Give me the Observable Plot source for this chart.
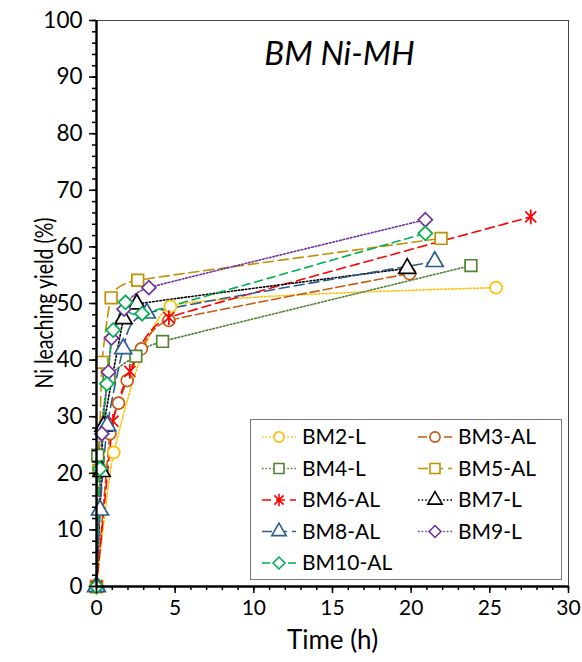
<!DOCTYPE html>
<html>
<head>
<meta charset="utf-8">
<script src="https://cdn.jsdelivr.net/npm/d3@7"></script>
<script src="https://cdn.jsdelivr.net/npm/@observablehq/plot@0.6"></script>
<style>
  html, body { margin: 0; padding: 0; background: #fff; }
  #wrap { position: relative; width: 582px; height: 662px; }
  #wrap svg { position: absolute; left: 0; top: 0; }
</style>
</head>
<body>
<div id="wrap"></div>
<script>
// ---- data ----
const seriesNames = ["BM2-L", "BM3-AL", "BM4-L", "BM5-AL", "BM6-AL", "BM7-L", "BM8-AL", "BM9-L", "BM10-AL"];
const bm2T = [0, 1.1, 4.7, 25.4];
const bm2Y = [0, 23.7, 49.5, 52.8];
const bm3T = [0, 0.85, 1.4, 1.95, 2.85, 4.6, 19.9];
const bm3Y = [0, 27.0, 32.4, 36.4, 42.0, 47.0, 55.3];
const bm4T = [0, 0.08, 0.8, 2.5, 4.2, 23.8];
const bm4Y = [0, 23.2, 37.0, 40.7, 43.3, 56.7];
const bm5T = [0, 0.15, 0.35, 0.93, 2.62, 21.9];
const bm5Y = [0, 20.5, 39.6, 51.0, 54.1, 61.5];
const bm6T = [0, 1.05, 2.12, 4.6, 27.6];
const bm6Y = [0, 29.2, 38.0, 47.5, 65.3];
const bm7T = [0, 0.33, 0.45, 1.72, 2.56, 19.75];
const bm7Y = [0, 20.3, 28.3, 47.3, 49.9, 56.2];
const bm8T = [0, 0.22, 0.68, 1.7, 3.2, 21.5];
const bm8Y = [0, 13.5, 28.4, 42.0, 48.3, 57.4];
const bm9T = [0, 0.34, 0.76, 0.95, 1.75, 3.33, 20.9];
const bm9Y = [0, 27.0, 37.9, 43.9, 49.0, 52.8, 64.8];
const bm10T = [0, 0.22, 0.66, 1.06, 1.84, 2.9, 20.9];
const bm10Y = [0, 20.8, 35.8, 45.3, 50.2, 48.2, 62.4];
const xTicks = [0, 5, 10, 15, 20, 25, 30];
const yTicks = [0, 10, 20, 30, 40, 50, 60, 70, 80, 90, 100];
const titleText = "BM Ni-MH";
const xLabel = "Time (h)";
const yLabel = "Ni leaching yield (%)";

// ---- styles ----
const starSymbol = {
  draw(ctx, size) {
    const r = Math.sqrt(size / Math.PI) * 1.05;
    const d = r * 0.75;
    ctx.moveTo(0, -r); ctx.lineTo(0, r);
    ctx.moveTo(-d, -d); ctx.lineTo(d, d);
    ctx.moveTo(-d, d); ctx.lineTo(d, -d);
  }
};
const styles = {
  "BM2-L":   {color: "#FFC000", symbol: "circle",   dash: "1.6,2",  r: 6},
  "BM3-AL":  {color: "#C55A11", symbol: "circle",   dash: "9,4",    r: 6},
  "BM4-L":   {color: "#548235", symbol: "square",   dash: "1.6,2",  r: 6.6},
  "BM5-AL":  {color: "#BF9000", symbol: "square",   dash: "10,5",   r: 6.6},
  "BM6-AL":  {color: "#FF0000", symbol: starSymbol, dash: "9,5",    r: 7},
  "BM7-L":   {color: "#000000", symbol: "triangle", dash: "1.6,2",  r: 6.3},
  "BM8-AL":  {color: "#2F5C8F", symbol: "triangle", dash: "10,5",   r: 6.3},
  "BM9-L":   {color: "#7030A0", symbol: "diamond2", dash: "1.6,2",  r: 6.3},
  "BM10-AL": {color: "#00B050", symbol: "diamond2", dash: "8,5",    r: 6.3}
};
const allT = [bm2T, bm3T, bm4T, bm5T, bm6T, bm7T, bm8T, bm9T, bm10T];
const allY = [bm2Y, bm3Y, bm4Y, bm5Y, bm6Y, bm7Y, bm8Y, bm9Y, bm10Y];
const rows = seriesNames.map((name, i) => allT[i].map((t, j) => ({series: name, t, y: allY[i][j]})));

const font = "Lato, 'Open Sans', sans-serif";
const smooth = d3.curveCardinal.tension(0.6);
const marks = [];
marks.push(Plot.frame({stroke: "#444", strokeWidth: 1}));
rows.forEach((data, i) => {
  const s = styles[seriesNames[i]];
  marks.push(Plot.line(data, {x: "t", y: "y", stroke: s.color, strokeWidth: 1.6,
    strokeDasharray: s.dash, curve: smooth}));
});
rows.forEach((data, i) => {
  const s = styles[seriesNames[i]];
  marks.push(Plot.dot(data, {x: "t", y: "y", symbol: () => s.symbol, r: s.r,
    stroke: s.color, fill: s.color === "#FF0000" ? "none" : "white", strokeWidth: 1.7}));
});
marks.push(
  Plot.axisX({ticks: d3.range(0, 31, 1), tickSize: 4, text: null, strokeWidth: 1.5, label: null}),
  Plot.axisX({ticks: xTicks, tickSize: 7, tickPadding: 7, fontSize: 21, strokeWidth: 1.5, label: null}),
  Plot.axisY({ticks: d3.range(0, 101, 2), tickSize: 4, text: null, strokeWidth: 1.5, label: null}),
  Plot.axisY({ticks: yTicks, tickSize: 7, tickPadding: 7, fontSize: 22.5, strokeWidth: 1.5, label: null}),
  Plot.ruleX([0], {strokeWidth: 2.4}),
  Plot.ruleY([0], {strokeWidth: 2.4}),
  Plot.text([titleText], {frameAnchor: "top", dy: 21, dx: 7, fontSize: 33, fontStyle: "italic"}),
  Plot.text([xLabel], {frameAnchor: "bottom", dy: 62, fontSize: 26})
);

const chart = Plot.plot({
  width: 582, height: 662,
  marginLeft: 96, marginRight: 14, marginTop: 20, marginBottom: 76,
  x: {domain: [0, 30]},
  y: {domain: [0, 100]},
  style: {fontFamily: font, color: "#000", background: "white", overflow: "visible"},
  marks
});
document.getElementById("wrap").appendChild(chart);

// ---- overlay: y-axis title (widened) and legend ----
const leg = d3.select("#wrap").append("svg")
  .attr("width", 582).attr("height", 662)
  .style("pointer-events", "none");
leg.append("text")
  .attr("transform", "translate(44,303) scale(1.3,1) rotate(-90)")
  .attr("text-anchor", "middle").attr("dy", "0.35em")
  .attr("font-family", font).attr("font-size", 19.5).attr("fill", "#000")
  .text(yLabel);
leg.append("rect").attr("x", 250.5).attr("y", 419.5).attr("width", 311).attr("height", 160)
  .attr("fill", "white").attr("stroke", "#777").attr("stroke-width", 1);
function symPath(sym, r) {
  const map = {circle: d3.symbolCircle, square: d3.symbolSquare, triangle: d3.symbolTriangle, diamond2: d3.symbolDiamond2};
  const type = typeof sym === "string" ? map[sym] : sym;
  return d3.symbol(type, r * r * Math.PI)();
}
seriesNames.forEach((name, i) => {
  const s = styles[name];
  const col = i % 2, row = Math.floor(i / 2);
  const x0 = col === 0 ? 262 : 418;
  const y0 = 437 + row * 31.5;
  leg.append("line").attr("x1", x0).attr("x2", x0 + 34).attr("y1", y0).attr("y2", y0)
    .attr("stroke", s.color).attr("stroke-width", 1.6).attr("stroke-dasharray", s.dash);
  leg.append("path").attr("d", symPath(s.symbol, s.r * 0.85))
    .attr("transform", `translate(${x0 + 17},${y0})`)
    .attr("fill", s.color === "#FF0000" ? "none" : "white").attr("stroke", s.color).attr("stroke-width", 1.6);
  leg.append("text").attr("x", x0 + 40).attr("y", y0).attr("dy", "0.35em")
    .attr("font-family", font).attr("font-size", 21).attr("fill", "#000").text(name);
});
</script>
</body>
</html>
